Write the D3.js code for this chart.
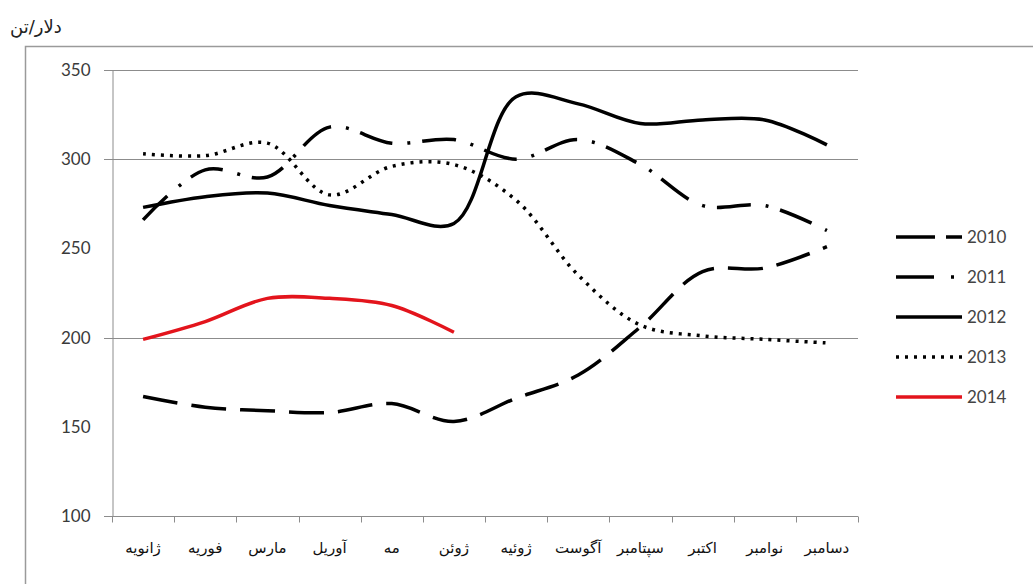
<!DOCTYPE html>
<html>
  <head>
    <meta charset="utf-8">
    <title>دلار/تن</title>
    <script src="https://d3js.org/d3.v7.min.js"></script>
    <style>
      body { margin: 0; background: #fff; }
    </style>
  </head>
  <body>
    <script>
      // ====================================
      // price per tonne, monthly, 2010-2014
      // ====================================
      const months = ["ژانویه", "فوریه", "مارس", "آوریل", "مه", "ژوئن",
                      "ژوئیه", "آگوست", "سپتامبر", "اکتبر", "نوامبر", "دسامبر"];
      const years = ["2010", "2011", "2012", "2013", "2014"];

      const values2010 = [167, 161, 159, 158, 163, 153, 166, 179, 206, 237, 239, 251];
      const values2011 = [266, 294, 290, 318, 309, 311, 300, 311, 297, 274, 274, 260];
      const values2012 = [273, 279, 281, 274, 269, 264, 335, 331, 320, 322, 322, 308];
      const values2013 = [303, 302, 309, 280, 296, 297, 277, 235, 207, 201, 199, 197];
      const values2014 = [199, 209, 222, 222, 218, 203];

      const yTicks = [100, 150, 200, 250, 300, 350];
      const gridValues = [100, 200, 300, 350];
      const yLabel = "دلار/تن";

      const width = 1033;
      const height = 584;
      const plot = {left: 112, right: 858, top: 70, bottom: 516};

      const svg = d3.select("body")
        .append("svg")
          .attr("width", width)
          .attr("height", height);

      // outer frame
      svg.append("rect")
        .attr("x", 25.5)
        .attr("y", 46.5)
        .attr("width", 1040)
        .attr("height", 560)
        .attr("fill", "none")
        .attr("stroke", "#9a9a9a")
        .attr("stroke-width", 1.5);

      svg.append("text")
        .attr("x", 10)
        .attr("y", 33)
        .attr("font-family", "DejaVu Sans")
        .attr("font-size", 18)
        .attr("fill", "#222")
        .text(yLabel);

      const xScale = d3.scaleBand()
        .domain(months)
        .range([plot.left, plot.right]);

      const yScale = d3.scaleLinear()
        .domain([100, 350])
        .range([plot.bottom, plot.top]);

      // gridlines
      svg.append("g")
        .selectAll("line")
        .data(gridValues)
        .join("line")
          .attr("x1", plot.left - 8)
          .attr("x2", plot.right)
          .attr("y1", d => Math.round(yScale(d)) + 0.5)
          .attr("y2", d => Math.round(yScale(d)) + 0.5)
          .attr("stroke", "#8c8c8c")
          .attr("stroke-width", 1);

      // y axis
      const yAxis = d3.axisLeft(yScale)
        .tickValues(yTicks)
        .tickSize(0)
        .tickPadding(22);

      svg.append("g")
        .attr("transform", "translate(" + (plot.left + 0.5) + ",0)")
        .call(yAxis)
        .call(g => g.select(".domain").attr("stroke", "#8c8c8c"))
        .call(g => g.selectAll("text")
          .attr("font-family", "Lato")
          .attr("font-size", 17)
          .attr("fill", "#3a3a3a"));

      // x axis
      const xAxis = d3.axisBottom(xScale)
        .tickSize(0)
        .tickPadding(26);

      const xg = svg.append("g")
        .attr("transform", "translate(0," + (plot.bottom + 0.5) + ")")
        .call(xAxis)
        .call(g => g.select(".domain").attr("stroke", "#8c8c8c").attr("d", "M" + plot.left + ",0H" + plot.right))
        .call(g => g.selectAll("text")
          .attr("font-family", "DejaVu Sans")
          .attr("font-size", 15)
          .attr("fill", "#111"));

      // boundary tick marks between months
      xg.append("g")
        .selectAll("line")
        .data(months.concat([null]))
        .join("line")
          .attr("x1", (d, i) => Math.round(plot.left + i * xScale.step()) + 0.5)
          .attr("x2", (d, i) => Math.round(plot.left + i * xScale.step()) + 0.5)
          .attr("y1", 0)
          .attr("y2", 6)
          .attr("stroke", "#8c8c8c");

      const line = d3.line()
        .x((d, i) => xScale(months[i]) + xScale.bandwidth() / 2)
        .y(d => yScale(d))
        .curve(d3.curveCatmullRom.alpha(0.5));

      const series = [
        {name: years[0], values: values2010, color: "#000", dash: "35,14"},
        {name: years[1], values: values2011, color: "#000", dash: "34,15,3,12"},
        {name: years[2], values: values2012, color: "#000", dash: null},
        {name: years[3], values: values2013, color: "#000", dash: "3,6"},
        {name: years[4], values: values2014, color: "#e3141c", dash: null}
      ];

      svg.append("g")
        .selectAll("path")
        .data(series)
        .join("path")
          .attr("d", d => line(d.values))
          .attr("fill", "none")
          .attr("stroke", d => d.color)
          .attr("stroke-width", 3.5)
          .attr("stroke-dasharray", d => d.dash);

      // legend
      const legend = svg.append("g")
        .selectAll("g")
        .data(series)
        .join("g")
          .attr("transform", (d, i) => "translate(896," + (237 + i * 40) + ")");

      legend.append("line")
        .attr("x1", 0)
        .attr("x2", 66)
        .attr("stroke", d => d.color)
        .attr("stroke-width", 3.5)
        .attr("stroke-dasharray", d => d.name === "2010" ? "39,11,16" : d.name === "2011" ? "38,17,3,100" : d.dash);

      legend.append("text")
        .attr("x", 71)
        .attr("dy", "0.35em")
        .attr("font-family", "Lato")
        .attr("font-size", 17)
        .attr("fill", "#444")
        .text(d => d.name);
    </script>
  </body>
</html>
